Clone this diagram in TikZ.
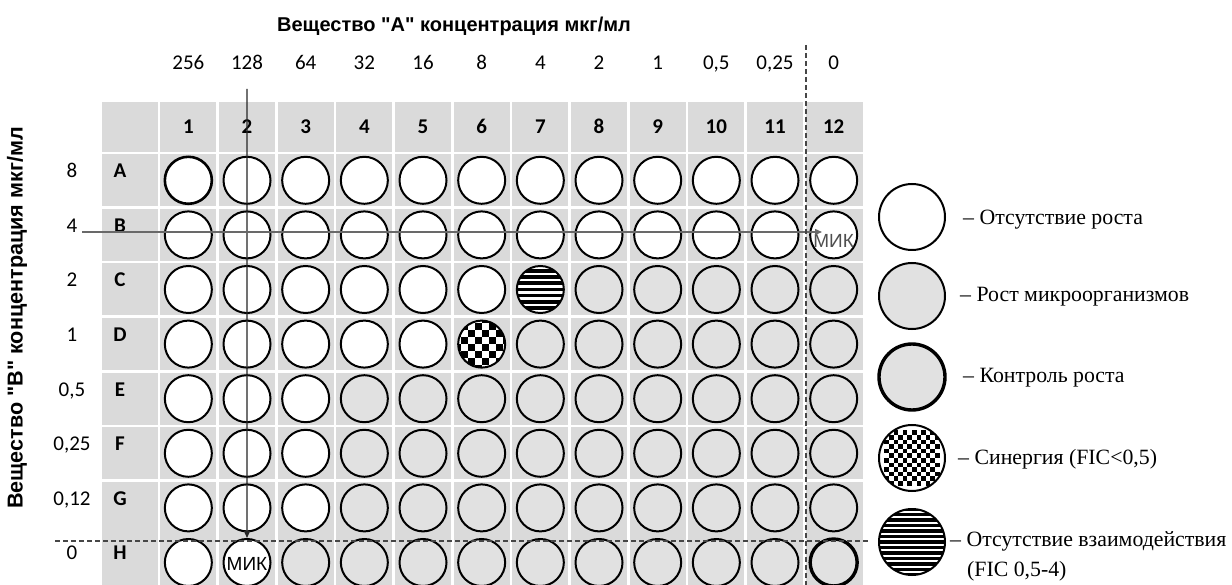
\documentclass[tikz,border=0pt]{standalone}
\usepackage{fontspec}
\setmainfont{Liberation Serif}
\newfontfamily\carl{Carlito}
\newfontfamily\arial{Liberation Sans}
\usetikzlibrary{arrows.meta}
\definecolor{cellgray}{RGB}{218,218,218}
\definecolor{wellgray}{RGB}{225,225,225}
\definecolor{dashgray}{RGB}{70,70,70}
\definecolor{arrgray}{RGB}{105,105,105}
\newcommand\chkfill[1]{%
  \foreach \ci in {-6,...,5}{\foreach \cj in {-6,...,5}{%
    \pgfmathtruncatemacro\chkpar{mod(\ci+\cj+12,2)}%
    \ifnum\chkpar=0
      \fill[black] ([shift={(\ci*#1,\cj*#1)}]path picture bounding box.center) rectangle ++(#1,#1);
    \fi}}}
\newcommand\strfill[2]{%
  \foreach \sk in {-8,...,8}{%
    \fill[black] ([shift={(-45,\sk*#1-#2/2)}]path picture bounding box.center) rectangle ++(90,#2);}}
\begin{document}
\begin{tikzpicture}[x=1pt,y=-1pt,
  well/.style={circle,draw=black,line width=2pt,minimum size=47pt,inner sep=0pt},
  wn/.style={well,fill=white},
  wa/.style={well,fill=white,line width=2.6pt},
  wg/.style={well,fill=wellgray},
  wt/.style={wg,line width=3.4pt},
  wk/.style={well,fill=white,path picture={\chkfill{7}}},
  ws/.style={well,fill=white,path picture={\strfill{6.2}{3.6}}},
  lwell/.style={circle,draw=black,line width=2pt,minimum size=66pt,inner sep=0pt},
  num/.style={font=\carl\fontsize{21}{24}\selectfont,anchor=base,inner sep=0pt},
  bnum/.style={font=\carl\bfseries\fontsize{21}{24}\selectfont,anchor=base,inner sep=0pt},
  axis/.style={font=\arial\bfseries\fontsize{20}{24}\selectfont},
  mik/.style={font=\arial\fontsize{19}{22}\selectfont,inner sep=0pt},
  legtext/.style={font=\fontsize{21.8}{26}\selectfont,anchor=west,inner sep=0pt},
  sep/.style={white,line width=2.6pt},
  dline/.style={dashgray,line width=1.4pt,dash pattern=on 5pt off 3pt},
]
\useasboundingbox (0,0) rectangle (1232,585);
% plate
\fill[cellgray] (102,102) rectangle (863,585);
\foreach \k in {0,...,11} \draw[sep] (159+58.667*\k,102) -- (159+58.667*\k,585);
\foreach \k in {0,...,6} \draw[sep] (102,153+54.6*\k) -- (863,153+54.6*\k);
\draw[sep] (102,153) -- (863,153);
% wells
\foreach \r/\types [count=\j] in {
  A/{wa,wn,wn,wn,wn,wn,wn,wn,wn,wn,wn,wn},
  B/{wn,wn,wn,wn,wn,wn,wn,wn,wn,wn,wn,wn},
  C/{wn,wn,wn,wn,wn,wn,ws,wg,wg,wg,wg,wg},
  D/{wn,wn,wn,wn,wn,wk,wg,wg,wg,wg,wg,wg},
  E/{wn,wn,wn,wg,wg,wg,wg,wg,wg,wg,wg,wg},
  F/{wn,wn,wn,wg,wg,wg,wg,wg,wg,wg,wg,wg},
  G/{wn,wn,wn,wg,wg,wg,wg,wg,wg,wg,wg,wg},
  H/{wn,wn,wg,wg,wg,wg,wg,wg,wg,wg,wg,wt}}{
  \foreach \t [count=\c] in \types {
    \node[\t] (w\r\c) at (159+58.667*\c-29.33,153+54.6*\j-27.3) {};
  }
  \node[bnum] (row\r) at (120,153+54.6*\j-30) {\r};
}
% column numbers and concentrations
\foreach \c in {1,...,12} \node[bnum] (col\c) at (159+58.667*\c-29.33,134) {\c};
\foreach \v [count=\c] in {256,128,64,32,16,8,4,2,1,{0,5},{0,25},0}
  \node[num] (ca\c) at (159+58.667*\c-29.33,70) {\v};
\foreach \v [count=\j] in {8,4,2,1,{0,5},{0,25},{0,12},0}
  \node[num] (cb\j) at (72,153+54.6*\j-30) {\v};
% axis titles
\node[axis] (titleA) at (454,26) {Вещество "А" концентрация мкг/мл};
\node[axis,rotate=90,font=\arial\bfseries\fontsize{21.6}{24}\selectfont] (titleB) at (17,318) {Вещество "В" концентрация мкг/мл};
% MIC labels
\node[mik] (mikH) at ([yshift=-1pt]wH2.center) {МИК};
\node[mik,text=arrgray!75!black] (mikB) at ([yshift=-6pt]wB12.center) {МИК};
% arrows
\coordinate (vstart) at (247,89);
\coordinate (hstart) at (82,232);
\coordinate (hend) at (822,232);
\draw[line width=1.3pt,black!85,-{Triangle[length=7pt,width=6pt]}] (vstart) -- (wH2.north);
\draw[line width=1.3pt,arrgray,-{Triangle[length=7pt,width=6pt]}] (hstart) -- (hend);
% dashed lines
\coordinate (d1) at (806,45);
\coordinate (d2) at (806,585);
\coordinate (d3) at (55,541);
\coordinate (d4) at (868,541);
\draw[dline] (d1) -- (d2);
\draw[dline] (d3) -- (d4);
% legend
\node[lwell,fill=white] (l1) at (912,217) {};
\node[lwell,fill=wellgray] (l2) at (912,296) {};
\node[lwell,fill=wellgray,line width=3.4pt] (l3) at (912,377) {};
\node[lwell,fill=white,path picture={\chkfill{4.6}}] (l4) at (912,458) {};
\node[lwell,fill=white,path picture={\strfill{5.5}{3.6}}] (l5) at (912,542) {};
\node[legtext] (t1) at (963,220) {– Отсутствие роста};
\node[legtext] (t2) at (960,297) {– Рост микроорганизмов};
\node[legtext] (t3) at (963,378) {– Контроль роста};
\node[legtext] (t4) at (958,459) {– Синергия (FIC<0,5)};
\node[legtext] (t5) at (950,541) {– Отсутствие взаимодействия};
\node[legtext] (t6) at (967,571) {(FIC 0,5-4)};
\end{tikzpicture}
\end{document}
